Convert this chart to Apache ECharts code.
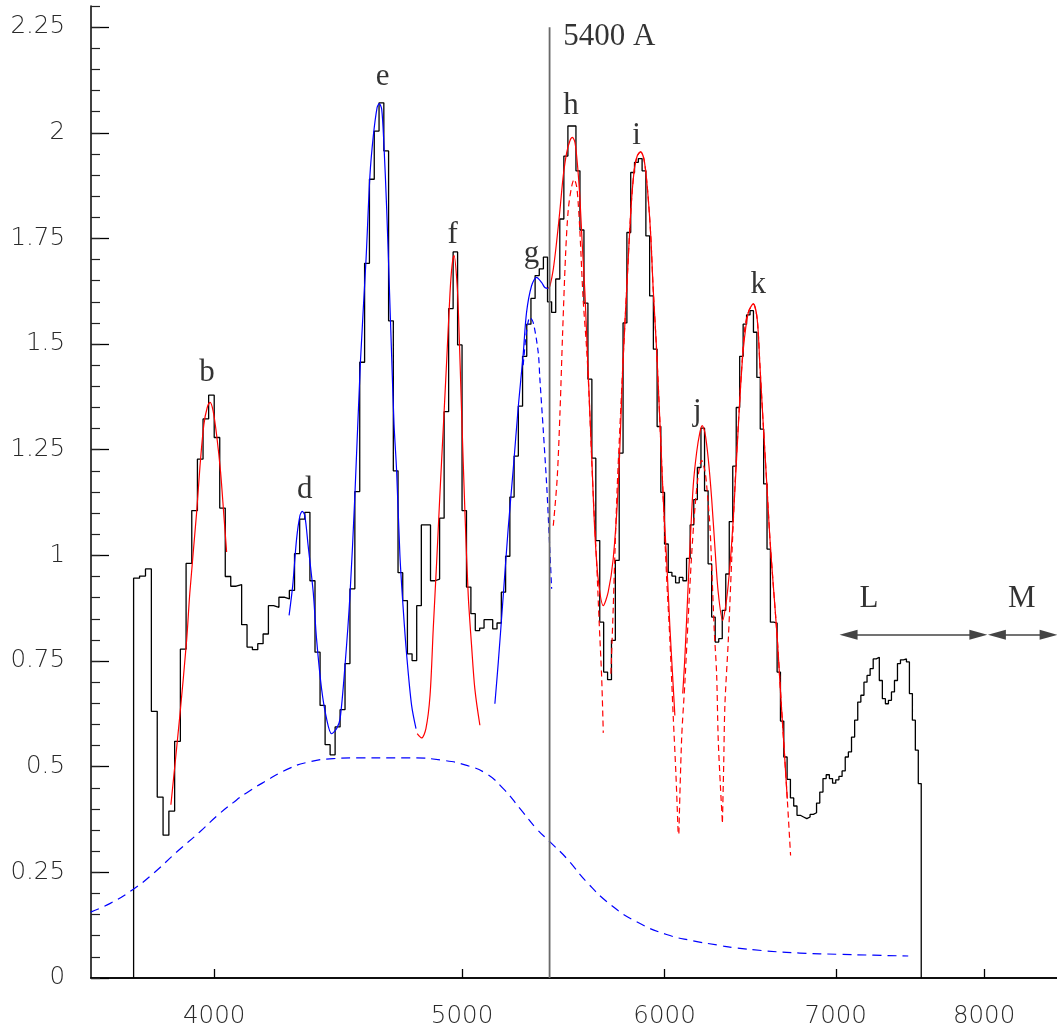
<!DOCTYPE html>
<html>
<head>
<meta charset="utf-8">
<script src="https://cdn.jsdelivr.net/npm/echarts@6/dist/echarts.min.js"></script>
<style>
html,body{margin:0;padding:0;background:#fff;}
#chart{width:1057px;height:1029px;}
</style>
</head>
<body>
<div id="chart"></div>
<script>
// ---------- data ----------
const xTicks = [4000, 5000, 6000, 7000, 8000];
const binStart = 3720;       // first bin edge (Angstrom)
const binWidth = 20;         // bin width (Angstrom)
const fluxValues = [
  0.946,0.951,0.968,0.631,0.428,0.338,0.395,0.560,0.778,0.981,
  1.106,1.228,1.323,1.379,1.279,1.112,0.950,0.927,0.931,0.836,
  0.783,0.777,0.791,0.814,0.881,0.877,0.901,0.897,0.917,1.004,
  1.086,1.102,0.940,0.771,0.645,0.552,0.528,0.594,0.635,0.744,
  0.921,1.151,1.457,1.691,1.890,2.004,2.071,1.957,1.555,1.200,
  0.959,0.893,0.767,0.751,0.881,1.072,1.072,0.940,0.944,1.088,
  1.340,1.584,1.718,1.498,1.106,0.925,0.862,0.822,0.828,0.848,
  0.848,0.826,0.840,0.913,0.998,1.138,1.235,1.353,1.471,1.547,
  1.608,1.662,1.678,1.706,1.600,1.575,1.654,1.796,1.945,2.016,
  2.016,1.910,1.770,1.597,1.417,1.230,1.035,0.842,0.724,0.706,
  0.799,0.988,1.242,1.550,1.764,1.906,1.930,1.939,1.910,1.756,
  1.614,1.488,1.305,1.149,1.027,0.960,0.951,0.935,0.948,0.940,
  0.993,1.072,1.132,1.208,1.301,1.153,0.980,0.854,0.795,0.803,
  0.870,0.956,1.080,1.211,1.350,1.471,1.547,1.569,1.579,1.528,
  1.421,1.299,1.169,1.015,0.842,0.840,0.724,0.608,0.523,0.470,
  0.426,0.407,0.385,0.381,0.377,0.381,0.387,0.391,0.414,0.440,
  0.472,0.481,0.472,0.461,0.469,0.477,0.490,0.523,0.535,0.570,
  0.610,0.653,0.669,0.700,0.716,0.732,0.755,0.759,0.704,0.661,
  0.649,0.657,0.677,0.704,0.744,0.753,0.755,0.748,0.673,0.610,
  0.539,0.460
];

// fitted curves (wavelength, value)
const fitB = [[3847,0.41],[3878,0.62],[3902,0.80],[3913,0.91],[3937,1.10],[3949,1.21],[3963,1.31],[3975,1.35],[3985,1.362],[3996,1.342],[4009,1.283],[4023,1.197],[4035,1.094],[4045,1.008]];
const fitDE = [[4279,0.858],[4293,0.929],[4308,1.039],[4321,1.094],[4330,1.104],[4340,1.094],[4353,1.023],[4373,0.913],[4386,0.803],[4406,0.684],[4426,0.613],[4446,0.578],[4466,0.590],[4480,0.613],[4500,0.740],[4520,0.905],[4540,1.141],[4563,1.460],[4586,1.701],[4602,1.898],[4616,1.992],[4632,2.060],[4641,2.069],[4651,2.056],[4660,1.977],[4672,1.819],[4683,1.640],[4693,1.470],[4703,1.310],[4714,1.200],[4728,1.000],[4742,0.874],[4757,0.763],[4778,0.645],[4797,0.590]];
const fitF = [[4802,0.578],[4821,0.568],[4840,0.590],[4858,0.669],[4872,0.826],[4887,0.984],[4901,1.141],[4916,1.299],[4931,1.457],[4946,1.620],[4955,1.685],[4964,1.710],[4978,1.640],[4986,1.540],[4998,1.339],[5013,1.102],[5028,0.905],[5043,0.787],[5058,0.684],[5081,0.598]];
const fitG = [[5150,0.649],[5166,0.748],[5189,0.905],[5212,1.063],[5236,1.205],[5260,1.354],[5283,1.476],[5299,1.575],[5323,1.638],[5347,1.658],[5371,1.646],[5387,1.634],[5404,1.632]];
const compG = [[5283,1.45],[5299,1.53],[5315,1.563],[5331,1.551],[5355,1.480],[5363,1.417],[5379,1.299],[5396,1.165],[5408,1.047],[5420,0.921]];
const fitHI = [[5404,1.632],[5412,1.638],[5428,1.677],[5444,1.740],[5461,1.819],[5477,1.898],[5494,1.953],[5510,1.981],[5522,1.989],[5535,1.977],[5548,1.922],[5560,1.843],[5571,1.740],[5585,1.620],[5602,1.425],[5619,1.236],[5635,1.055],[5652,0.944],[5678,0.881],[5703,0.913],[5729,0.992],[5755,1.165],[5781,1.47],[5799,1.63],[5820,1.811],[5837,1.906],[5854,1.945],[5872,1.955],[5890,1.937],[5907,1.874],[5925,1.764],[5939,1.63],[5957,1.488],[5975,1.315],[5993,1.134],[6011,0.992],[6029,0.83],[6047,0.69],[6056,0.621]];
const fitJK = [[6099,0.673],[6111,0.76],[6129,0.93],[6139,1.02],[6157,1.165],[6176,1.244],[6194,1.291],[6207,1.307],[6222,1.291],[6241,1.228],[6260,1.134],[6279,1.015],[6297,0.913],[6322,0.846],[6345,0.897],[6364,0.976],[6383,1.086],[6402,1.228],[6421,1.370],[6441,1.488],[6470,1.575],[6499,1.595],[6522,1.559],[6538,1.449],[6558,1.307],[6578,1.173],[6597,1.040],[6617,0.930],[6641,0.803],[6663,0.660],[6681,0.550],[6701,0.424]];
const compH = [[5428,1.07],[5447,1.181],[5461,1.339],[5474,1.528],[5489,1.717],[5502,1.819],[5519,1.874],[5531,1.890],[5543,1.874],[5551,1.835],[5560,1.764],[5576,1.606],[5592,1.50],[5602,1.417],[5627,1.141],[5644,0.984],[5657,0.842],[5670,0.708],[5678,0.580]];
const compI = [[5717,0.72],[5729,0.874],[5738,1.008],[5750,1.165],[5764,1.307],[5781,1.47],[5799,1.63],[5820,1.811],[5837,1.906],[5854,1.945],[5872,1.955],[5890,1.937],[5907,1.874],[5925,1.764],[5939,1.63],[5957,1.488],[5975,1.315],[5993,1.134],[6011,0.95],[6029,0.80],[6047,0.62],[6062,0.48],[6074,0.342]];
const compJ = [[6078,0.342],[6093,0.566],[6111,0.70],[6129,0.85],[6148,1.00],[6166,1.11],[6185,1.19],[6204,1.225],[6222,1.20],[6232,1.165],[6250,1.07],[6260,0.976],[6275,0.82],[6288,0.72],[6297,0.566],[6310,0.45],[6321,0.369]];
const compK = [[6321,0.369],[6328,0.50],[6335,0.645],[6354,0.795],[6374,0.99],[6393,1.17],[6412,1.31],[6431,1.44],[6450,1.54],[6470,1.575],[6499,1.595],[6522,1.559],[6538,1.449],[6558,1.307],[6578,1.173],[6597,1.040],[6617,0.930],[6641,0.803],[6663,0.660],[6681,0.550],[6701,0.424],[6721,0.290]];
const continuum = [[3579,0.156],[3641,0.176],[3719,0.210],[3786,0.247],[3867,0.298],[3949,0.346],[4009,0.383],[4069,0.415],[4118,0.438],[4193,0.467],[4269,0.493],[4347,0.510],[4452,0.519],[4561,0.521],[4771,0.521],[4916,0.515],[5021,0.503],[5112,0.483],[5189,0.448],[5268,0.401],[5347,0.353],[5412,0.322],[5494,0.283],[5594,0.227],[5719,0.172],[5851,0.133],[6011,0.103],[6157,0.088],[6307,0.077],[6383,0.072],[6578,0.064],[6778,0.059],[7027,0.056],[7241,0.054],[7472,0.052]];

const cutLine = [[5410,0],[5410,2.25]];
const peakLabels = [
  {name:'b', value:[3974,1.432]},
  {name:'d', value:[4340,1.155]},
  {name:'e', value:[4655,2.132]},
  {name:'f', value:[4958,1.759]},
  {name:'g', value:[5323,1.713]},
  {name:'h', value:[5515,2.063]},
  {name:'i', value:[5851,1.993]},
  {name:'j', value:[6180,1.340]},
  {name:'k', value:[6528,1.641]},
  {name:'L', value:[7212,0.897]},
  {name:'M', value:[8276,0.897]}
];
const cutLabel = {name:'5400 A', value:[5477,2.228]};
const arrowL = [[7081,0.812],[7959,0.812]];
const arrowM = [[8093,0.812],[8479,0.812]];

// ---------- build ----------
const histData = [[binStart, 0]];
fluxValues.forEach((v, i) => histData.push([binStart + i * binWidth, v]));
histData.push([binStart + fluxValues.length * binWidth, 0]);

const RED = '#ff0000', BLUE = '#0000ff';
function curve(data, color, dashed, sm) {
  return {
    type: 'line', data: data, symbol: 'none', smooth: sm || 0.3, silent: true, z: 4,
    lineStyle: {color: color, width: 1.2, type: dashed ? dashed : 'solid'}
  };
}

const chart = echarts.init(document.getElementById('chart'), null, {renderer: 'canvas'});
const axisFont = {fontFamily: 'DejaVu Sans', fontSize: 24.5, color: '#2a2a2a', fontWeight: 200};
const arrowHead = 'path://M5,0 L10,18 L0,18 Z';

chart.setOption({
  animation: false,
  backgroundColor: '#fff',
  grid: {left: 91, right: 0, top: 6, bottom: 50, containLabel: false},
  xAxis: [{
    type: 'log', logBase: 10, min: 3580, max: 8543, position: 'bottom',
    axisLine: {show: true, lineStyle: {color: '#000', width: 1.5}},
    axisTick: {show: true, inside: true, length: 9, customValues: xTicks, lineStyle: {color: '#000', width: 1.3}},
    axisLabel: Object.assign({show: true, customValues: xTicks, margin: 26, formatter: v => String(Math.round(v))}, axisFont),
    splitLine: {show: false}, minorTick: {show: false}, minorSplitLine: {show: false}
  }, {
    type: 'value', min: 0, max: 1, position: 'top',
    axisLine: {show: true, lineStyle: {color: '#000', width: 1.5}},
    axisTick: {show: false}, axisLabel: {show: false}, splitLine: {show: false}
  }],
  yAxis: [{
    type: 'value', min: 0, max: 2.3, interval: 0.25, position: 'left',
    axisLine: {show: true, lineStyle: {color: '#000', width: 1.5}},
    axisTick: {show: true, inside: true, length: 18, lineStyle: {color: '#000', width: 1.3}},
    axisLabel: Object.assign({show: true, margin: 26, showMaxLabel: false}, axisFont),
    splitLine: {show: false}
  }, {
    type: 'value', min: 0, max: 2.3, interval: 0.05, position: 'left', offset: 0,
    axisLine: {show: false},
    axisTick: {show: true, inside: true, length: 9, lineStyle: {color: '#222', width: 1.2}},
    axisLabel: {show: false}, splitLine: {show: false}
  }],
  series: [
    {
      type: 'line', data: histData, step: 'end', symbol: 'none', silent: true, z: 3,
      lineStyle: {color: '#000', width: 1.3}
    },
    {
      type: 'line', data: cutLine, symbol: 'none', silent: true, z: 5,
      lineStyle: {color: '#6a6a6a', width: 1.8}
    },
    curve(continuum, BLUE, [9, 6], 0.5),
    curve(fitB, RED),
    curve(fitDE, BLUE),
    curve(fitF, RED),
    curve(fitG, BLUE),
    curve(compG, BLUE, [6, 4]),
    curve(fitHI, RED),
    curve(fitJK, RED),
    curve(compH, RED, [6, 4]),
    curve(compI, RED, [6, 4]),
    curve(compJ, RED, [6, 4]),
    curve(compK, RED, [6, 4]),
    {
      type: 'scatter', data: peakLabels, symbolSize: 1, silent: true, z: 6,
      itemStyle: {color: 'rgba(0,0,0,0)'},
      label: {show: true, position: 'inside', formatter: '{b}', fontFamily: 'Liberation Serif', fontSize: 31, color: '#000'}
    },
    {
      type: 'scatter', data: [cutLabel], symbolSize: 1, silent: true, z: 6,
      itemStyle: {color: 'rgba(0,0,0,0)'},
      label: {show: true, position: 'inside', align: 'left', formatter: '{b}', fontFamily: 'Liberation Serif', fontSize: 31, color: '#000'}
    },
    {
      type: 'line', data: [], silent: true, z: 6,
      markLine: {
        silent: true, animation: false,
        symbol: [arrowHead, arrowHead], symbolSize: 18, symbolKeepAspect: true,
        label: {show: false},
        itemStyle: {color: '#000'},
        lineStyle: {type: 'solid', color: '#444', width: 1.5},
        data: [
          [{coord: arrowL[0]}, {coord: arrowL[1]}],
          [{coord: arrowM[0]}, {coord: arrowM[1]}]
        ]
      }
    }
  ]
});
</script>
</body>
</html>
